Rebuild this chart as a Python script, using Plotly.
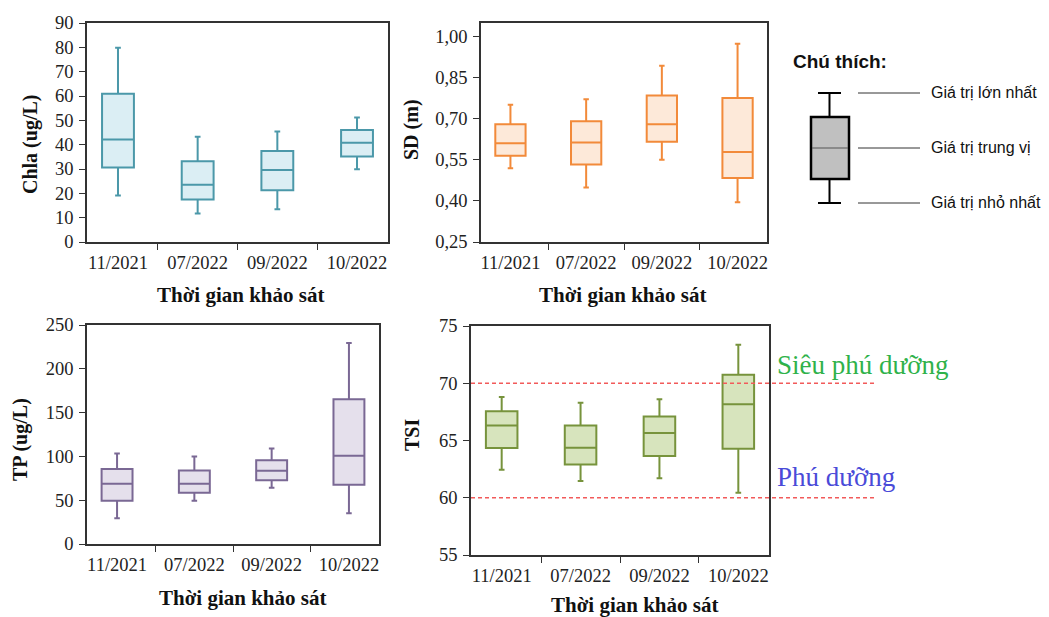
import plotly.graph_objects as go

W, H = 1049, 617
OFF = 8  # page body margin
FW, FH = W - OFF, H - OFF

categories = ["11/2021", "07/2022", "09/2022", "10/2022"]

chla_min = [19.1, 11.7, 13.5, 29.9]
chla_q1 = [30.6, 17.5, 21.3, 35.1]
chla_med = [42.1, 23.5, 29.6, 40.8]
chla_q3 = [60.9, 33.2, 37.4, 46.0]
chla_max = [79.8, 43.3, 45.4, 51.2]

sd_min = [0.519, 0.449, 0.550, 0.395]
sd_q1 = [0.564, 0.532, 0.615, 0.483]
sd_med = [0.610, 0.613, 0.679, 0.578]
sd_q3 = [0.679, 0.690, 0.784, 0.775]
sd_max = [0.750, 0.770, 0.892, 0.972]

tp_min = [29.3, 49.4, 64.2, 35.0]
tp_q1 = [49.4, 58.5, 72.9, 67.6]
tp_med = [68.8, 68.8, 83.6, 100.7]
tp_q3 = [85.5, 84.0, 95.7, 165.3]
tp_max = [103.3, 99.9, 109.0, 229.5]

tsi_min = [62.45, 61.46, 61.7, 60.44]
tsi_q1 = [64.35, 62.9, 63.65, 64.29]
tsi_med = [66.3, 64.37, 65.65, 68.16]
tsi_q3 = [67.55, 66.3, 67.1, 70.75]
tsi_max = [68.8, 68.3, 68.6, 73.37]

tsi_thresholds = [70, 60]
tsi_threshold_labels = ["Siêu phú dưỡng", "Phú dưỡng"]

x_title = "Thời gian khảo sát"
y_titles = ["Chla (ug/L)", "SD (m)", "TP (ug/L)", "TSI"]

legend_title = "Chú thích:"
legend_labels = ["Giá trị lớn nhất", "Giá trị trung vị", "Giá trị nhỏ nhất"]


def px(x):
    return (x - OFF) / FW


def py(y):
    return 1 - (y - OFF) / FH


SERIF = "Liberation Serif, Times New Roman, serif"
SANS = "Liberation Sans, Arial, sans-serif"
FRAME = "#333333"
TICK_SIZE = 18.5

panels = [
    ("", (chla_min, chla_q1, chla_med, chla_q3, chla_max), "#4b98a9", "#dbeef4",
     (87, 388), (23, 242), [0, 90], 10, None),
    ("2", (sd_min, sd_q1, sd_med, sd_q3, sd_max), "#f28a3a", "#fde9d9",
     (481, 767), (23, 242), [0.25, 1.048], 0.15, ".2f"),
    ("3", (tp_min, tp_q1, tp_med, tp_q3, tp_max), "#7a6894", "#e5e0ec",
     (87, 379), (325, 544), [0, 250], 50, None),
    ("4", (tsi_min, tsi_q1, tsi_med, tsi_q3, tsi_max), "#77933c", "#d7e4bd",
     (471, 769), (326, 555), [55, 75], 5, None),
]

fig = go.Figure()
layout_axes = {}
annotations = []

title_pos = [
    ((240, 295), (30, 145)),
    ((622, 295), (412, 130)),
    ((242, 598), (20, 440)),
    ((634, 605), (412, 435)),
]

for i, (suf, stats, lc, fc, xr, yr, yrange, dtick, tf) in enumerate(panels):
    mn, q1, med, q3, mx = stats
    fig.add_trace(go.Box(
        x=categories, q1=q1, median=med, q3=q3, lowerfence=mn, upperfence=mx,
        xaxis="x" + suf, yaxis="y" + suf,
        line=dict(color=lc, width=2), fillcolor=fc,
        width=0.4, whiskerwidth=0.18, boxpoints=False, showlegend=False,
    ))
    xa = dict(
        domain=[px(xr[0]), px(xr[1])], anchor="y" + suf, type="category",
        categoryorder="array", categoryarray=categories, automargin=False,
        showline=True, linecolor=FRAME, linewidth=1.5, mirror=True,
        ticks="outside", tickson="boundaries", ticklen=6, tickcolor=FRAME,
        ticklabelstandoff=3,
        showgrid=False, zeroline=False,
        tickfont=dict(family=SERIF, size=TICK_SIZE, color="#222"),
    )
    ya = dict(
        domain=[py(yr[1]), py(yr[0])], anchor="x" + suf, range=yrange, automargin=False,
        tick0=yrange[0] if suf != "2" else 0.25, dtick=dtick,
        showline=True, linecolor=FRAME, linewidth=1.5, mirror=True,
        ticks="outside", ticklen=6, tickcolor=FRAME,
        ticklabelstandoff=2,
        showgrid=False, zeroline=False,
        tickfont=dict(family=SERIF, size=TICK_SIZE, color="#222"),
    )
    if tf:
        ya["tickformat"] = tf
    layout_axes["xaxis" + suf] = xa
    layout_axes["yaxis" + suf] = ya

    (xtx, xty), (ytx, yty) = title_pos[i]
    annotations.append(dict(
        text="<b>" + x_title + "</b>", x=px(xtx), y=py(xty), xref="paper", yref="paper",
        showarrow=False, xanchor="center", yanchor="middle",
        font=dict(family=SERIF, size=21, color="#111"),
    ))
    annotations.append(dict(
        text="<b>" + y_titles[i] + "</b>", x=px(ytx), y=py(yty), xref="paper", yref="paper",
        showarrow=False, xanchor="center", yanchor="middle", textangle=-90,
        font=dict(family=SERIF, size=20, color="#111"),
    ))

shapes = []
for t in tsi_thresholds:
    shapes.append(dict(
        type="line", xref="paper", yref="y4", x0=px(471), x1=px(877), y0=t, y1=t,
        line=dict(color="#f25a5a", width=1.5, dash="4px,3px"),
    ))
annotations.append(dict(
    text=tsi_threshold_labels[0], x=px(775), y=py(365), xref="paper", yref="paper",
    showarrow=False, xanchor="left", yanchor="middle",
    font=dict(family=SERIF, size=27, color="#2fb24a"),
))
annotations.append(dict(
    text=tsi_threshold_labels[1], x=px(775), y=py(477), xref="paper", yref="paper",
    showarrow=False, xanchor="left", yanchor="middle",
    font=dict(family=SERIF, size=27, color="#4a4ad8"),
))

annotations.append(dict(
    text="<b>" + legend_title + "</b>", x=px(791), y=py(61), xref="paper", yref="paper",
    showarrow=False, xanchor="left", yanchor="middle",
    font=dict(family=SANS, size=19, color="#111"),
))
key_y = [93, 148, 203]
for yy, lab in zip(key_y, legend_labels):
    shapes.append(dict(type="line", xref="paper", yref="paper",
                       x0=px(858), x1=px(920), y0=py(yy), y1=py(yy),
                       line=dict(color="#333", width=1)))
    annotations.append(dict(
        text=lab, x=px(929), y=py(yy), xref="paper", yref="paper",
        showarrow=False, xanchor="left", yanchor="middle",
        font=dict(family=SANS, size=16, color="#111"),
    ))
shapes.append(dict(type="line", xref="paper", yref="paper", x0=px(829.5), x1=px(829.5),
                   y0=py(93), y1=py(117), line=dict(color="#000", width=2)))
shapes.append(dict(type="line", xref="paper", yref="paper", x0=px(829.5), x1=px(829.5),
                   y0=py(179), y1=py(203), line=dict(color="#000", width=2)))
shapes.append(dict(type="line", xref="paper", yref="paper", x0=px(818), x1=px(841),
                   y0=py(93), y1=py(93), line=dict(color="#000", width=2)))
shapes.append(dict(type="line", xref="paper", yref="paper", x0=px(818), x1=px(841),
                   y0=py(203), y1=py(203), line=dict(color="#000", width=2)))
shapes.append(dict(type="rect", xref="paper", yref="paper", x0=px(811), x1=px(849),
                   y0=py(179), y1=py(117), fillcolor="#c0c0c0",
                   line=dict(color="#000", width=2.5)))
shapes.append(dict(type="line", xref="paper", yref="paper", x0=px(812), x1=px(848),
                   y0=py(148), y1=py(148), line=dict(color="#555", width=1)))

fig.update_layout(
    width=FW, height=FH, margin=dict(l=0, r=0, t=0, b=0, autoexpand=False),
    paper_bgcolor="white", plot_bgcolor="white",
    separators=",.", showlegend=False,
    shapes=shapes, annotations=annotations,
    **layout_axes,
)

fig.write_html("out.html")
